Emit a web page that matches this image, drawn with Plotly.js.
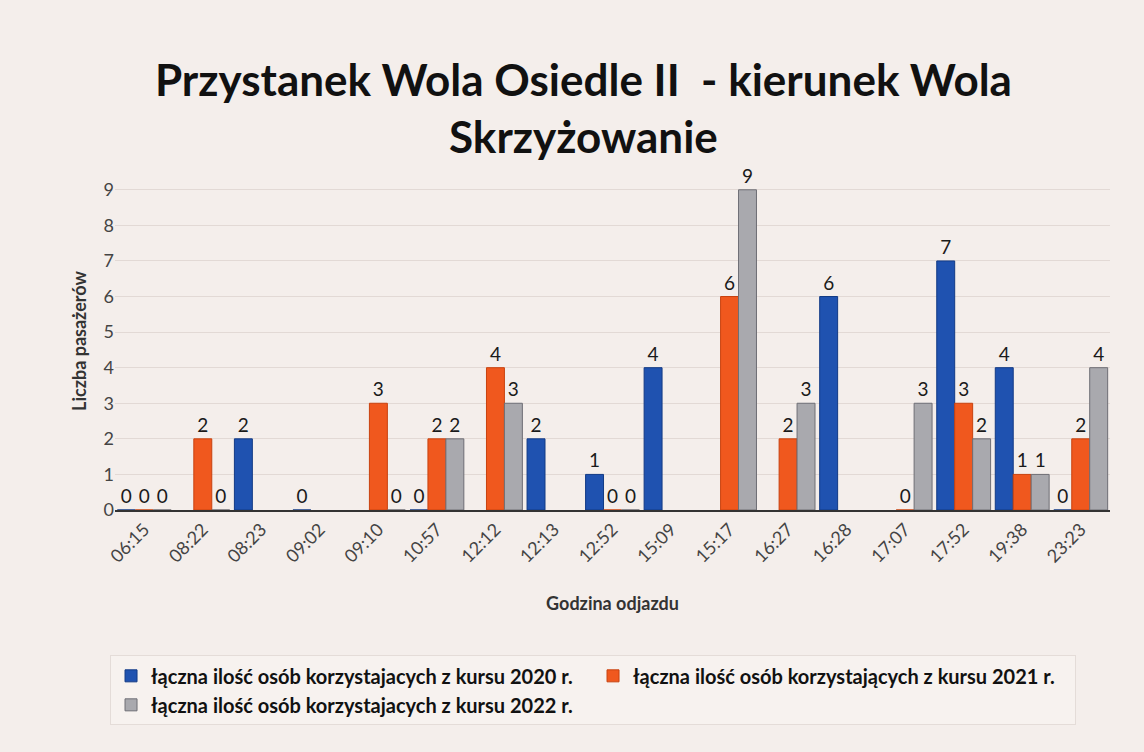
<!DOCTYPE html>
<html><head><meta charset="utf-8">
<script src="https://cdn.plot.ly/plotly-3.0.1.min.js"></script>
<style>html,body{margin:0;padding:0;background:#f4eeeb;}#chart{width:1144px;height:752px;}</style>
</head><body><div id="chart"></div>
<script>
const categories = ["06:15","08:22","08:23","09:02","09:10","10:57","12:12","12:13","12:52","15:09","15:17","16:27","16:28","17:07","17:52","19:38","23:23"];
const values2020 = [0, null, 2, 0, null, 0, null, 2, 1, 4, null, null, 6, null, 7, 4, 0];
const values2021 = [0, 2, null, null, 3, 2, 4, null, 0, null, 6, 2, null, 0, 3, 1, 2];
const values2022 = [0, 0, null, null, 0, 2, 3, null, 0, null, 9, 3, null, 3, 2, 1, 4];
const seriesNames = [
  "łączna ilość osób korzystajacych z kursu 2020 r.",
  "łączna ilość osób korzystających z kursu 2021 r.",
  "łączna ilość osób korzystajacych z kursu 2022 r."
];
const colors = ["#1f52b0", "#f0581e", "#a9a9ae"];
const lines = ["#123a85", "#c8420f", "#6e6e75"];
const all = [values2020, values2021, values2022];

const traces = all.map((v, i) => ({
  type: "bar",
  name: seriesNames[i],
  x: categories,
  y: v,
  text: v.map(d => d === null ? "" : String(d)),
  textposition: "outside",
  textfont: {family: "Lato, 'Open Sans', sans-serif", size: 19, color: "#1a1a1a"},
  cliponaxis: false,
  marker: {color: colors[i], line: {color: lines[i], width: 1}},
  hoverinfo: "x+y+name"
}));

const layout = {
  width: 1144, height: 752,
  paper_bgcolor: "#f4eeeb",
  plot_bgcolor: "#f4eeeb",
  font: {family: "Lato, 'Open Sans', sans-serif", color: "#333"},
  title: {
    text: "<b>Przystanek Wola Osiedle II  - kierunek Wola<br>Skrzyżowanie</b>",
    font: {family: "Lato, 'Open Sans', sans-serif", size: 44, color: "#111"},
    x: 0.51, xanchor: "center",
    yref: "container", y: 0.872, yanchor: "middle"
  },
  margin: {l: 115, r: 34, t: 172, b: 242, autoexpand: false},
  barmode: "group",
  bargap: 0.08,
  bargroupgap: 0,
  showlegend: true,
  legend: {
    orientation: "h",
    x: -0.005, xanchor: "left",
    y: -0.43, yanchor: "top",
    font: {family: "Lato, 'Open Sans', sans-serif", size: 20, color: "#111", weight: "bold"},
    bgcolor: "#f7f2ef",
    bordercolor: "#e4dcd8", borderwidth: 1,
    traceorder: "normal",
    itemwidth: 20,
    entrywidth: 437,
    entrywidthmode: "pixels"
  },
  xaxis: {
    type: "category",
    tickangle: -45,
    tickfont: {size: 18, color: "#444"},
    showgrid: false,
    showline: true, linecolor: "#333", linewidth: 2,
    ticks: "",
    title: {text: "<b>Godzina odjazdu</b>", font: {size: 18, color: "#333"}, standoff: 32}
  },
  yaxis: {
    range: [0, 9.5],
    dtick: 1,
    tickfont: {size: 18, color: "#444"},
    showgrid: true, gridcolor: "#e2d9d5", gridwidth: 1,
    zeroline: false,
    ticks: "",
    title: {text: "<b>Liczba pasażerów</b>", font: {size: 18, color: "#333"}, standoff: 12}
  }
};

Plotly.newPlot("chart", traces, layout, {displayModeBar: false, responsive: false});
</script>
</body></html>
